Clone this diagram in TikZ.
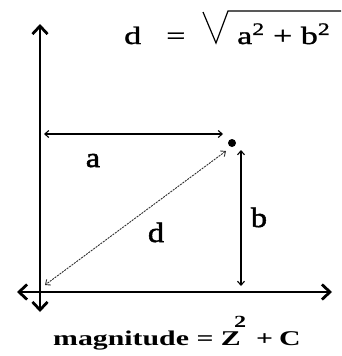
\documentclass[tikz,border=0pt]{standalone}
\usepackage{fontspec}
\setmainfont{Liberation Serif}
\newfontfamily\formulafont[FakeStretch=1.36,FakeBold=1.2]{Liberation Serif}
\newfontfamily\labelfont[FakeStretch=1.15,FakeBold=1.8]{Liberation Serif}
\newfontfamily\magfont[FakeStretch=1.42]{Liberation Serif}
\usetikzlibrary{arrows.meta}
\definecolor{dashGray}{HTML}{303030}

\begin{document}
\begin{tikzpicture}[x=1pt, y=-1pt,
    axis/.style={line width=2.8pt, {Straight Barb[length=8pt,width=15pt]}-{Straight Barb[length=8pt,width=15pt]}},
    measure/.style={line width=1.1pt, {Straight Barb[length=4pt,width=7pt]}-{Straight Barb[length=4pt,width=7pt]}},
    lbl/.style={anchor=base, inner sep=0pt, font=\labelfont\fontsize{28}{28}\selectfont},
    top/.style={anchor=base west, inner sep=0pt, font=\formulafont\fontsize{25}{25}\selectfont},
    bot/.style={anchor=base west, inner sep=0pt, font=\magfont\bfseries\fontsize{21}{21}\selectfont}]
    \useasboundingbox (0,0) rectangle (341,356);
    \coordinate (yTop) at (40,24);
    \coordinate (yBot) at (40,312);
    \coordinate (xLeft) at (17,292);
    \coordinate (xRight) at (332,292);
    \draw[axis] (yBot) -- (yTop);
    \draw[axis] (xLeft) -- (xRight);
    \node[circle, fill, inner sep=0pt, minimum size=8pt] (pt) at (232,143) {};
    \coordinate (aLeft) at (44,134);
    \coordinate (aRight) at (223,134);
    \coordinate (bTop) at (241,150);
    \coordinate (bBot) at (241,286);
    \coordinate (dTop) at (226,151);
    \coordinate (dBot) at (45,285);
    \draw[measure] (aLeft) -- (aRight);
    \draw[measure] (bTop) -- (bBot);
    \draw[measure, line width=0.9pt, dashGray, dash pattern=on 2pt off 1pt] (dTop) -- (dBot);
    \node[lbl] (aLbl) at (93,167) {a};
    \node[lbl] (bLbl) at (259,227) {b};
    \node[lbl] (dLbl) at (156,242) {d};
    % formula at the top
    \node[top] (dEq) at (124,44) {d};
    \node[top] (eqSign) at (166,44) {=};
    \node[top] (radicand) at (237,44) {a\textsuperscript{2} + b\textsuperscript{2}};
    \draw[line width=1.2pt, line join=miter] (203,12) -- (216,43) -- (228,11) -- (341,11);
    % magnitude line
    \node[bot] (magText) at (53,345) {magnitude = Z};
    \node[bot, font=\magfont\bfseries\fontsize{17}{17}\selectfont] (sqTwo) at (234,327) {2};
    \node[bot] (plusSign) at (256,345) {+};
    \node[bot] (cTerm) at (279,345) {C};
\end{tikzpicture}
\end{document}
